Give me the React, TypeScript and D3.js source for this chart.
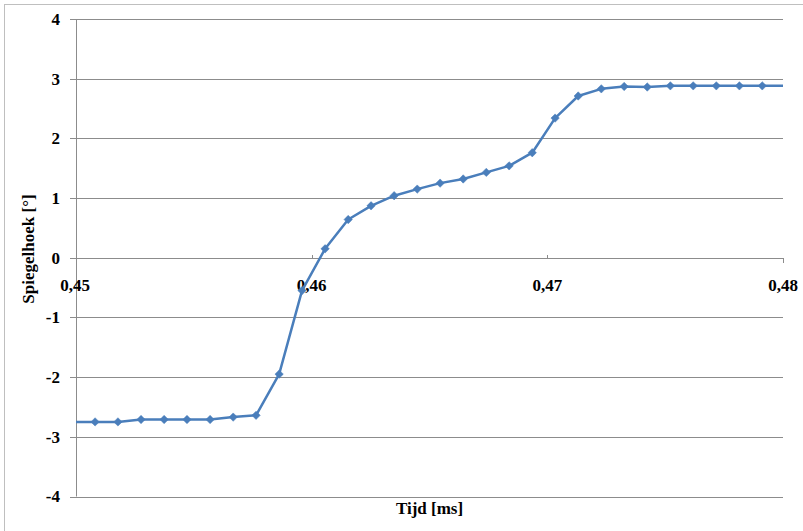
import React from "react";
import * as d3 from "d3";

// Time [ms]
const timeMs: number[] = [
  0.44983, 0.45081, 0.45178, 0.45276, 0.45374, 0.45471, 0.45569, 0.45667, 0.45764,
  0.45862, 0.45959, 0.46057, 0.46155, 0.46252, 0.4635, 0.46448, 0.46545, 0.46643,
  0.46741, 0.46838, 0.46936, 0.47033, 0.47131, 0.47229, 0.47326, 0.47424, 0.47522,
  0.47619, 0.47717, 0.47815, 0.47912, 0.4801,
];
// Mirror angle [°]
const angleDeg: number[] = [
  -2.75, -2.75, -2.75, -2.71, -2.71, -2.71, -2.71, -2.67, -2.64,
  -1.95, -0.55, 0.15, 0.64, 0.87, 1.04, 1.15, 1.25, 1.32,
  1.43, 1.54, 1.76, 2.34, 2.71, 2.83, 2.87, 2.86, 2.88,
  2.88, 2.88, 2.88, 2.88, 2.88,
];
const xTicks: number[] = [0.45, 0.46, 0.47, 0.48];
const xTickLabels: string[] = ["0,45", "0,46", "0,47", "0,48"];
const yTicks: number[] = [-4, -3, -2, -1, 0, 1, 2, 3, 4];
const xTitle = "Tijd [ms]";
const yTitle = "Spiegelhoek [°]";

export default function App() {
  const W = 803;
  const H = 531;
  const left = 76;
  const right = 783;
  const top = 19;
  const bottom = 496.5;
  const x = d3.scaleLinear().domain([0.45, 0.48]).range([left, right]);
  const y = d3.scaleLinear().domain([-4, 4]).range([bottom, top]);
  const pts = timeMs.map((t, i) => ({ t, v: angleDeg[i] }));
  const line = d3
    .line<{ t: number; v: number }>()
    .x((d) => x(d.t))
    .y((d) => y(d.v));
  const inRange = pts.filter((d) => d.t >= 0.45 && d.t <= 0.48);
  const font = "'Liberation Serif', 'Times New Roman', serif";
  const gridColor = "#8c8c8c";
  const blue = "#4a7ebb";
  const fs = 17;
  const diamond = (cx: number, cy: number) =>
    `M${cx},${cy - 4.2}L${cx + 4.2},${cy}L${cx},${cy + 4.2}L${cx - 4.2},${cy}Z`;
  return (
    <svg
      width={W}
      height={H}
      style={{ position: "absolute", left: 0, top: 0, background: "#fff" }}
    >
      <defs>
        <clipPath id="plotClip">
          <rect x={left} y={top - 5} width={right - left} height={bottom - top + 10} />
        </clipPath>
      </defs>
      <rect x={4.5} y={4.5} width={820} height={560} fill="#fff" stroke="#bfbfbf" strokeWidth={1} />
      {yTicks.map((v) => (
        <line
          key={"g" + v}
          x1={left - 6}
          x2={right}
          y1={Math.round(y(v)) + 0.5}
          y2={Math.round(y(v)) + 0.5}
          stroke={gridColor}
          strokeWidth={1}
        />
      ))}
      <line x1={left + 0.5} x2={left + 0.5} y1={top} y2={bottom} stroke={gridColor} strokeWidth={1} />
      {xTicks.slice(1).map((t, i) => (
        <line
          key={"xt" + t}
          x1={Math.round(x(t)) + 0.5}
          x2={Math.round(x(t)) + 0.5}
          y1={Math.round(y(0)) + (i === 2 ? 0 : -3)}
          y2={Math.round(y(0)) + (i === 2 ? 5 : 0)}
          stroke={gridColor}
          strokeWidth={1}
        />
      ))}
      {yTicks.map((v) => (
        <text
          key={"yl" + v}
          x={60}
          y={y(v)}
          dy="0.35em"
          textAnchor="end"
          fontFamily={font}
          fontWeight="bold"
          fontSize={fs}
          fill="#000"
        >
          {v}
        </text>
      ))}
      {xTicks.map((t, i) => (
        <text
          key={"xl" + t}
          x={x(t) - (i === 0 ? 1 : 0)}
          y={y(0) + 27}
          dy="0.35em"
          textAnchor="middle"
          fontFamily={font}
          fontWeight="bold"
          fontSize={fs}
          fill="#000"
        >
          {xTickLabels[i]}
        </text>
      ))}
      <g clipPath="url(#plotClip)">
        <path d={line(pts) || ""} fill="none" stroke={blue} strokeWidth={2.5} strokeLinejoin="round" />
        {inRange.map((d, i) => (
          <path key={"m" + i} d={diamond(x(d.t), y(d.v))} fill={blue} stroke={blue} strokeWidth={0.5} />
        ))}
      </g>
      <text
        x={(left + right) / 2}
        y={514}
        textAnchor="middle"
        fontFamily={font}
        fontWeight="bold"
        fontSize={fs}
        fill="#000"
      >
        {xTitle}
      </text>
      <text
        transform={`translate(34,249) rotate(-90)`}
        textAnchor="middle"
        fontFamily={font}
        fontWeight="bold"
        fontSize={fs}
        fill="#000"
      >
        {yTitle}
      </text>
    </svg>
  );
}
